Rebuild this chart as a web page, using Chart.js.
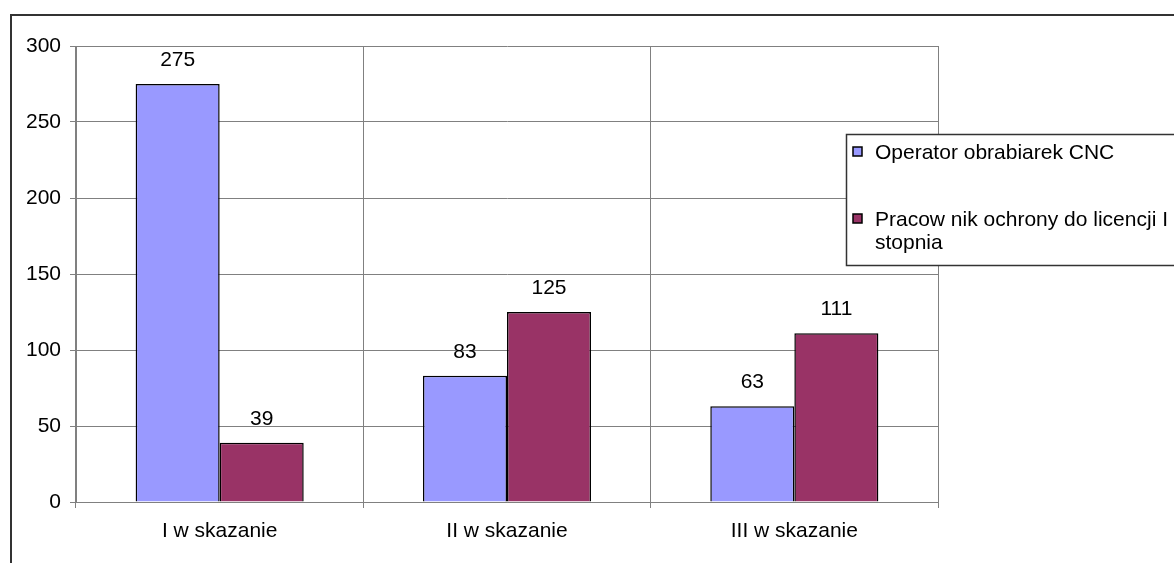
<!DOCTYPE html>
<html>
<head>
<meta charset="utf-8">
<script src="https://cdn.jsdelivr.net/npm/chart.js@4.4.1/dist/chart.umd.min.js"></script>
<style>
  html, body { margin: 0; padding: 0; background: #fff; }
  #wrap { width: 1174px; height: 563px; position: relative; }
</style>
</head>
<body>
<div id="wrap"><canvas id="barChart" width="1174" height="563"></canvas></div>
<script>
var categories = ['I w skazanie', 'II w skazanie', 'III w skazanie'];
var seriesNames = ['Operator obrabiarek CNC', 'Pracow nik ochrony do licencji I stopnia'];
var operatorCnc = [275, 83, 63];
var pracownikOchrony = [39, 125, 111];
var yTicks = [0, 50, 100, 150, 200, 250, 300];

var FONT = '"Liberation Sans", Arial, sans-serif';
var FSIZE = 21;

// frame round the whole chart + white background
var framePlugin = {
    id: 'frame',
    beforeDraw: function(chart) {
        var c = chart.ctx;
        c.save();
        c.fillStyle = '#fff';
        c.fillRect(0, 0, chart.width, chart.height);
        c.strokeStyle = '#333';
        c.lineWidth = 2;
        c.strokeRect(11, 15, chart.width + 20, chart.height + 20);
        c.restore();
    }
};

// value labels above each bar
var valuePlugin = {
    id: 'values',
    afterDatasetsDraw: function(chart) {
        var c = chart.ctx;
        c.save();
        c.font = FSIZE + 'px ' + FONT;
        c.fillStyle = '#000';
        c.textAlign = 'center';
        c.textBaseline = 'alphabetic';
        chart.data.datasets.forEach(function(ds, i) {
            chart.getDatasetMeta(i).data.forEach(function(bar, j) {
                c.fillText(String(ds.data[j]), bar.x, bar.y - 18);
            });
        });
        c.restore();
    }
};

// legend box, Excel style, sitting over the plot
var legendPlugin = {
    id: 'boxLegend',
    afterDraw: function(chart) {
        var c = chart.ctx;
        var left = 846.5, top = 134.5, bottom = 265.5;
        c.save();
        c.fillStyle = '#fff';
        c.fillRect(left, top, chart.width, bottom - top);
        c.strokeStyle = '#333';
        c.lineWidth = 1.5;
        c.strokeRect(left, top, chart.width, bottom - top);
        c.font = FSIZE + 'px ' + FONT;
        c.textBaseline = 'alphabetic';
        var maxW = chart.width - 875 - 2;
        var rows = [159, 226];
        chart.data.datasets.forEach(function(ds, i) {
            var y = rows[i];
            c.fillStyle = ds.backgroundColor;
            c.fillRect(853, y - 12, 9, 9);
            c.strokeStyle = '#000';
            c.lineWidth = 1.5;
            c.strokeRect(853, y - 12, 9, 9);
            // simple word wrap
            var words = ds.label.split(' ');
            var lines = [], cur = '';
            words.forEach(function(w) {
                var t = cur ? cur + ' ' + w : w;
                if (c.measureText(t).width > maxW && cur) {
                    lines.push(cur);
                    cur = w;
                } else {
                    cur = t;
                }
            });
            lines.push(cur);
            c.fillStyle = '#000';
            lines.forEach(function(l, k) {
                c.fillText(l, 875, y + k * 23);
            });
        });
        c.restore();
    }
};

window.onload = function() {
    var ctx = document.getElementById('barChart').getContext('2d');
    new Chart(ctx, {
        type: 'bar',
        data: {
            labels: categories,
            datasets: [{
                label: seriesNames[0],
                data: operatorCnc,
                backgroundColor: '#9999ff',
                borderColor: '#000',
                borderWidth: 1.5,
                categoryPercentage: 0.585,
                barPercentage: 1
            }, {
                label: seriesNames[1],
                data: pracownikOchrony,
                backgroundColor: '#993366',
                borderColor: '#000',
                borderWidth: 1.5,
                categoryPercentage: 0.585,
                barPercentage: 1
            }]
        },
        options: {
            responsive: false,
            animation: false,
            layout: { padding: { left: 0, top: 46, right: 236, bottom: 0 } },
            plugins: {
                legend: { display: false },
                tooltip: { enabled: false }
            },
            scales: {
                x: {
                    grid: {
                        offset: true,
                        color: '#808080',
                        lineWidth: 1,
                        tickLength: 6
                    },
                    border: { color: '#808080', width: 1 },
                    ticks: {
                        font: { family: FONT, size: FSIZE },
                        color: '#000',
                        padding: 11,
                        maxRotation: 0
                    },
                    afterFit: function(s) { s.height = 61; }
                },
                y: {
                    min: 0,
                    max: 300,
                    afterBuildTicks: function(s) {
                        s.ticks = yTicks.map(function(v) { return { value: v }; });
                    },
                    grid: {
                        color: '#808080',
                        lineWidth: 1,
                        tickLength: 6
                    },
                    border: { color: '#808080', width: 1 },
                    ticks: {
                        font: { family: FONT, size: FSIZE },
                        color: '#000',
                        padding: 9
                    },
                    afterFit: function(s) { s.width = 76; }
                }
            }
        },
        plugins: [framePlugin, valuePlugin, legendPlugin]
    });
};
</script>
</body>
</html>
